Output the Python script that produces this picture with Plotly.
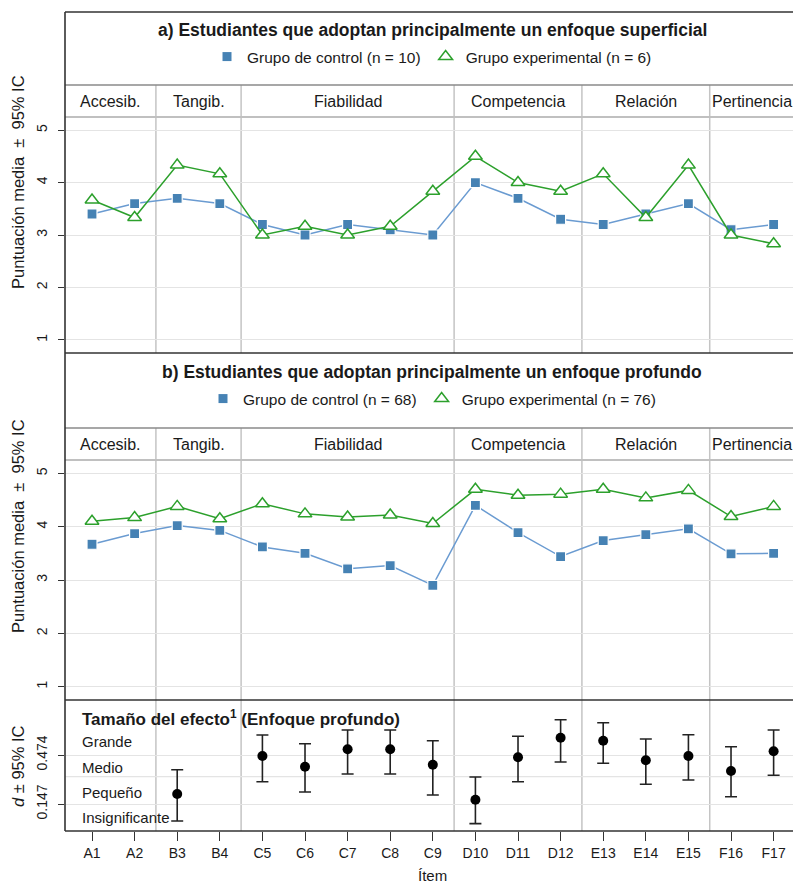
import plotly.graph_objects as go

# ---------------- data ----------------
items = ["A1", "A2", "B3", "B4", "C5", "C6", "C7", "C8", "C9",
         "D10", "D11", "D12", "E13", "E14", "E15", "F16", "F17"]
groups = ["Accesib.", "Tangib.", "Fiabilidad", "Competencia", "Relación", "Pertinencia"]
group_letters = ["A", "B", "C", "D", "E", "F"]

sup_control = [3.4, 3.6, 3.7, 3.6, 3.2, 3.0, 3.2, 3.1, 3.0, 4.0, 3.7, 3.3, 3.2, 3.4, 3.6, 3.1, 3.2]
sup_exp = [3.667, 3.333, 4.333, 4.167, 3.0, 3.167, 3.0, 3.167, 3.833, 4.5, 4.0, 3.833,
           4.167, 3.333, 4.333, 3.0, 2.833]
deep_control = [3.67, 3.87, 4.02, 3.93, 3.62, 3.50, 3.21, 3.27, 2.90, 4.40, 3.89, 3.44,
                3.74, 3.85, 3.96, 3.49, 3.50]
deep_exp = [4.10, 4.17, 4.38, 4.15, 4.43, 4.24, 4.18, 4.22, 4.06, 4.70, 4.59, 4.61,
            4.70, 4.54, 4.68, 4.19, 4.38]

d_value = [None, None, 0.214, None, 0.467, 0.396, 0.512, 0.512, 0.409, 0.176, 0.459, 0.589,
           0.569, 0.439, 0.467, 0.367, 0.499]
d_low = [None, None, 0.034, None, 0.296, 0.227, 0.347, 0.347, 0.207, 0.016, 0.296, 0.427,
         0.419, 0.279, 0.307, 0.196, 0.339]
d_high = [None, None, 0.376, None, 0.607, 0.549, 0.641, 0.641, 0.569, 0.327, 0.599, 0.709,
          0.689, 0.581, 0.609, 0.529, 0.641]

thresholds = [0.147, 0.33, 0.474]
threshold_labels = ["0.147", "", "0.474"]
magnitude_labels = ["Grande", "Medio", "Pequeño", "Insignificante"]

title_a = "a) Estudiantes que adoptan principalmente un enfoque superficial"
title_b = "b) Estudiantes que adoptan principalmente un enfoque profundo"
title_c = "Tamaño del efecto<sup>1</sup> (Enfoque profundo)"
legend_a = ["Grupo de control (n = 10)", "Grupo experimental (n = 6)"]
legend_b = ["Grupo de control (n = 68)", "Grupo experimental (n = 76)"]
score_ticks = [1, 2, 3, 4, 5]

# ---------------- styling / geometry ----------------
W, H = 793, 886
FONT = "Liberation Sans, Arial, sans-serif"
BLUE = "#4682B4"
BLUE_LINE = "#6A9BD1"
GREEN = "#2CA02C"
TXT = "#1a1a1a"
FRAME = "#333333"
SEP = "#c4c4c4"
GRID = "#e4e4e4"


def py(p):
    return 1 - p / H


def px(p):
    return p / W


x = list(range(len(items)))
XR = [-0.634, 16.455]
xdom = [px(65), 1.0]

fig = go.Figure()


def score_traces(ctrl, exp, xa, ya, legname, labels):
    fig.add_trace(go.Scatter(
        x=x, y=ctrl, xaxis=xa, yaxis=ya, mode="lines+markers", showlegend=False,
        line=dict(color=BLUE_LINE, width=1.5),
        marker=dict(symbol="square", size=10, color=BLUE, line=dict(color="white", width=1.2))))
    fig.add_trace(go.Scatter(
        x=x, y=exp, xaxis=xa, yaxis=ya, mode="lines+markers", showlegend=False,
        line=dict(color=GREEN, width=1.5),
        marker=dict(symbol="triangle-up", size=12, color="white", line=dict(color=GREEN, width=1.5))))
    fig.add_trace(go.Scatter(
        x=[None], y=[None], xaxis=xa, yaxis=ya, mode="markers", name=labels[0], legend=legname,
        marker=dict(symbol="square", size=9, color=BLUE)))
    fig.add_trace(go.Scatter(
        x=[None], y=[None], xaxis=xa, yaxis=ya, mode="markers", name=labels[1], legend=legname,
        marker=dict(symbol="triangle-up-open", size=12, color=GREEN, line=dict(width=1.5))))


score_traces(sup_control, sup_exp, "x2", "y2", "legend", legend_a)
score_traces(deep_control, deep_exp, "x3", "y3", "legend2", legend_b)

err_plus = [(h - v) if v is not None else 0 for v, h in zip(d_value, d_high)]
err_minus = [(v - l) if v is not None else 0 for v, l in zip(d_value, d_low)]
fig.add_trace(go.Scatter(
    x=x, y=d_value, xaxis="x", yaxis="y", mode="markers", showlegend=False,
    marker=dict(symbol="circle", size=10, color="black"),
    error_y=dict(type="data", symmetric=False, array=err_plus, arrayminus=err_minus,
                 color="#222222", thickness=1.6, width=6)))

# ---------------- axes ----------------
common_x = dict(range=XR, domain=xdom, showgrid=False, zeroline=False, showline=False)
ytick_common = dict(ticks="outside", ticklen=6, tickcolor=FRAME, tickwidth=1.2,
                    tickangle=-90, tickfont=dict(size=14, color=TXT), ticklabelstandoff=5,
                    showgrid=True, gridcolor=GRID, gridwidth=1.3, zeroline=False, showline=False)

fig.update_layout(
    xaxis=dict(**common_x, anchor="y", tickmode="array", tickvals=x, ticktext=items,
               ticks="outside", ticklen=9, tickcolor=FRAME, tickwidth=1.2,
               tickfont=dict(size=14, color=TXT)),
    xaxis2=dict(**common_x, anchor="y2", matches="x", showticklabels=False, ticks=""),
    xaxis3=dict(**common_x, anchor="y3", matches="x", showticklabels=False, ticks=""),
    yaxis=dict(domain=[py(831), py(700)], range=[-0.033, 0.841], tickmode="array",
               tickvals=[thresholds[0], thresholds[2]],
               ticktext=[threshold_labels[0], threshold_labels[2]], **ytick_common),
    yaxis2=dict(domain=[py(353), py(117)], range=[0.75, 5.25], tickmode="array",
                tickvals=score_ticks, ticktext=[str(t) for t in score_ticks], **ytick_common),
    yaxis3=dict(domain=[py(700), py(460)], range=[0.75, 5.25], tickmode="array",
                tickvals=score_ticks, ticktext=[str(t) for t in score_ticks], **ytick_common),
)

# ---------------- shapes ----------------
shapes = []


def hline(ypix, color, width=1.5, x0=px(65), x1=1.0):
    shapes.append(dict(type="line", xref="paper", yref="paper", x0=x0, x1=x1,
                       y0=py(ypix), y1=py(ypix), line=dict(color=color, width=width), layer="above"))


# group boundaries from item letters
bounds = []
for i in range(1, len(items)):
    if items[i][0] != items[i - 1][0]:
        bounds.append(i - 0.5)

for (ytop, ybot) in [(85, 353), (428, 700), (700, 831)]:
    for b in bounds:
        shapes.append(dict(type="line", xref="x", yref="paper", x0=b, x1=b,
                           y0=py(ybot), y1=py(ytop), line=dict(color=SEP, width=1.5), layer="below"))

# threshold 0.33 gridline in effect-size panel
shapes.append(dict(type="line", xref="paper", yref="y", x0=px(65), x1=1.0,
                   y0=thresholds[1], y1=thresholds[1], line=dict(color=GRID, width=1.3), layer="below"))

hline(85, "#8a8a8a", 1.3)
hline(117, "#c0c0c0", 1.8)
hline(428, "#8a8a8a", 1.3)
hline(460, "#c0c0c0", 1.8)
hline(12, FRAME, 1.6)
hline(353, FRAME, 1.6)
hline(700, FRAME, 1.6)
hline(831, FRAME, 1.6)
shapes.append(dict(type="line", xref="paper", yref="paper", x0=px(65), x1=px(65),
                   y0=py(831), y1=py(12), line=dict(color=FRAME, width=1.6), layer="above"))

# ---------------- annotations ----------------
ann = []
cx = px(432)
ann.append(dict(text="<b>" + title_a + "</b>", x=cx, y=py(30), xref="paper", yref="paper",
                showarrow=False, font=dict(size=17.5, color=TXT), xanchor="center", yanchor="middle"))
ann.append(dict(text="<b>" + title_b + "</b>", x=cx, y=py(372), xref="paper", yref="paper",
                showarrow=False, font=dict(size=17.5, color=TXT), xanchor="center", yanchor="middle"))

seg_edges = [XR[0]] + bounds + [16.5]
for gi, g in enumerate(groups):
    c = (seg_edges[gi] + seg_edges[gi + 1]) / 2
    for xr_, yp in [("x2", 102), ("x3", 444)]:
        ann.append(dict(text=g, x=c, y=py(yp), xref=xr_, yref="paper", showarrow=False,
                        font=dict(size=16, color=TXT), xanchor="center", yanchor="middle"))

ytitle = "Puntuación media \u00a0±\u00a0 95% IC"
ann.append(dict(text=ytitle, x=px(18), y=py(182), xref="paper", yref="paper", showarrow=False,
                textangle=-90, font=dict(size=16.5, color=TXT), xanchor="center", yanchor="middle"))
ann.append(dict(text=ytitle, x=px(18), y=py(526), xref="paper", yref="paper", showarrow=False,
                textangle=-90, font=dict(size=16.5, color=TXT), xanchor="center", yanchor="middle"))
ann.append(dict(text="<i>d</i> ± 95% IC", x=px(18), y=py(766), xref="paper", yref="paper",
                showarrow=False, textangle=-90, font=dict(size=16.5, color=TXT),
                xanchor="center", yanchor="middle"))

ann.append(dict(text="<b>" + title_c + "</b>", x=px(80), y=py(718), xref="paper", yref="paper",
                showarrow=False, font=dict(size=17, color=TXT), xanchor="left", yanchor="middle"))
for lab, yp in zip(magnitude_labels, [741, 767, 792, 817]):
    ann.append(dict(text=lab, x=px(80), y=py(yp), xref="paper", yref="paper", showarrow=False,
                    font=dict(size=15, color=TXT), xanchor="left", yanchor="middle"))

ann.append(dict(text="Ítem", x=px(432), y=py(875), xref="paper", yref="paper", showarrow=False,
                font=dict(size=15, color=TXT), xanchor="center", yanchor="middle"))

legend_common = dict(orientation="h", xref="paper", yref="paper", x=cx, xanchor="center",
                     yanchor="middle", bgcolor="rgba(0,0,0,0)", font=dict(size=15.5, color=TXT),
                     itemwidth=30, tracegroupgap=0)

fig.update_layout(
    width=W, height=H, margin=dict(l=0, r=0, t=0, b=0),
    paper_bgcolor="white", plot_bgcolor="white",
    font=dict(family=FONT, color=TXT),
    shapes=shapes, annotations=ann,
    legend=dict(**legend_common, y=py(57)),
    legend2=dict(**legend_common, y=py(399)),
)

fig.write_html("out.html")
